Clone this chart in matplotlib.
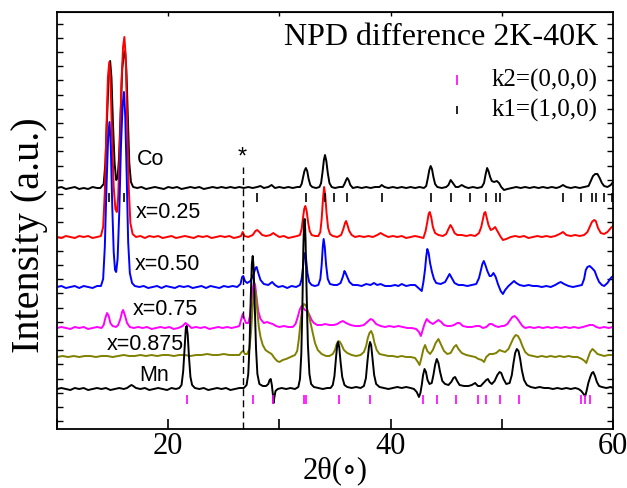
import numpy as np
import matplotlib
matplotlib.use("Agg")
from matplotlib import pyplot as plt
from matplotlib.ticker import FixedLocator, NullFormatter

# (2theta, height above baseline), per pattern
co = [(10, 0), (10.4, 1), (10.8, -1), (11.2, 0), (11.6, 1), (12.0, -1), (12.4, 0), (12.8, -1), (13.2, 1),
      (13.6, 0), (13.9, 0), (14.2, 4), (14.35, 25), (14.5, 70), (14.65, 112), (14.78, 127), (14.9, 110),
      (15.03, 65), (15.18, 25), (15.32, 8), (15.45, 10), (15.58, 30), (15.72, 75), (15.86, 118),
      (16.0, 134), (16.12, 137), (16.24, 118), (16.37, 70), (16.5, 25), (16.65, 6), (16.85, 1),
      (17.2, 0), (17.6, 1), (18.0, -1), (18.4, 0), (18.8, 1), (19.2, 0), (19.6, -1), (20.0, 1),
      (20.4, 0), (20.8, 1), (21.2, -1), (21.6, 0), (22.0, 1), (22.4, 0), (22.8, 1), (23.2, -1),
      (23.6, 0), (24.0, 1), (24.4, 0), (24.8, 1), (25.2, 0), (25.6, 1), (26.0, 0), (26.4, 1),
      (26.8, 0), (27.2, 1), (27.6, 0), (28.0, 1), (28.3, 2), (28.6, 0), (29.0, 1), (29.3, 3),
      (29.6, 0), (30.0, 1), (30.4, 0), (30.8, 1), (31.2, 0), (31.6, 1), (31.85, 1), (32.0, 4),
      (32.12, 10), (32.25, 17), (32.38, 20), (32.5, 17), (32.63, 9), (32.78, 3), (32.95, 1),
      (33.3, 0), (33.6, 1), (33.75, 5), (33.88, 16), (34.0, 28), (34.1, 33), (34.22, 27),
      (34.35, 15), (34.5, 5), (34.7, 1), (35.0, 0), (35.4, 1), (35.7, 1), (35.85, 4), (36.0, 8),
      (36.1, 10), (36.22, 8), (36.38, 3), (36.6, 0), (37.0, 1), (37.4, 0), (37.8, 1), (38.2, 0),
      (38.6, 1), (39.0, 1), (39.2, 3), (39.45, 1), (39.8, 0), (40.2, 1), (40.6, 0), (41.0, 1),
      (41.4, 0), (41.8, 1), (42.2, 0), (42.6, 1), (43.0, 0), (43.2, 2), (43.35, 10), (43.48, 18),
      (43.6, 22), (43.72, 19), (43.85, 11), (44.0, 4), (44.2, 1), (44.6, 0), (45.0, 1), (45.2, 3),
      (45.4, 8), (45.6, 5), (45.85, 1), (46.1, 1), (46.4, 3), (46.7, 1), (47.0, 0), (47.4, 1),
      (47.8, 0), (48.2, 1), (48.4, 5), (48.55, 14), (48.68, 20), (48.8, 17), (48.95, 11), (49.1, 7),
      (49.3, 6), (49.55, 7), (49.75, 5), (49.95, 1), (50.2, -2), (50.5, -1), (50.9, 0), (51.3, 1),
      (51.7, 0), (52.1, 1), (52.5, 0), (52.9, 1), (53.3, 0), (53.7, 1), (54.1, 0), (54.5, 1),
      (54.9, 0), (55.2, 1), (55.5, 3), (55.8, 1), (56.2, 0), (56.6, 1), (57.0, 0), (57.4, 1),
      (57.8, 2), (58.0, 7), (58.2, 12), (58.4, 14), (58.6, 14), (58.8, 10), (59.0, 5), (59.2, 2),
      (59.5, 1), (59.8, 3), (60, 6)]

x025 = [(10, 0), (10.4, -1), (10.8, 1), (11.2, 0), (11.6, -1), (12.0, 1), (12.4, 0), (12.8, 1),
        (13.2, -1), (13.6, 0), (13.95, 1), (14.15, 10), (14.3, 45), (14.45, 110), (14.58, 160),
        (14.7, 175), (14.82, 155), (14.95, 100), (15.1, 50), (15.25, 28), (15.38, 25), (15.5, 40),
        (15.65, 90), (15.8, 155), (15.94, 190), (16.06, 200), (16.18, 180), (16.3, 120), (16.45, 50),
        (16.6, 14), (16.8, 3), (17.1, 0), (17.5, 1), (17.9, -1), (18.3, 1), (18.7, 0), (19.1, 1),
        (19.5, -1), (19.9, 0), (20.3, 1), (20.7, -1), (21.1, 0), (21.5, 1), (21.9, 0), (22.3, -1),
        (22.7, 1), (23.1, 0), (23.5, 1), (23.9, -1), (24.3, 0), (24.7, 1), (25.1, 0), (25.5, 1),
        (25.9, -1), (26.3, 0), (26.55, 1), (26.7, 5), (26.85, 1), (27.2, 0), (27.6, 2), (27.85, 6),
        (28.0, 7), (28.2, 5), (28.45, 2), (28.8, 1), (29.2, 2), (29.45, 4), (29.7, 2), (30.0, 0),
        (30.4, 1), (30.8, -1), (31.2, 0), (31.6, 1), (31.85, 2), (32.0, 8), (32.12, 19), (32.23, 28),
        (32.33, 31), (32.45, 26), (32.58, 15), (32.72, 6), (32.9, 2), (33.2, 1), (33.5, 1),
        (33.68, 5), (33.8, 18), (33.92, 38), (34.02, 50), (34.12, 42), (34.24, 24), (34.38, 9),
        (34.55, 3), (34.8, 1), (35.2, 0), (35.55, 2), (35.75, 8), (35.9, 14), (36.0, 16), (36.12, 12),
        (36.28, 6), (36.5, 2), (36.8, 0), (37.2, 1), (37.6, 0), (38.0, 1), (38.4, 0), (38.8, 2),
        (39.1, 4), (39.4, 2), (39.8, 0), (40.2, 1), (40.6, 0), (41.0, 1), (41.4, -1), (41.8, 0),
        (42.2, 1), (42.6, 0), (42.95, -1), (43.15, 6), (43.3, 15), (43.42, 23), (43.52, 25),
        (43.65, 20), (43.8, 10), (44.0, 4), (44.3, 2), (44.7, 1), (45.0, 3), (45.2, 8), (45.38, 12),
        (45.55, 9), (45.75, 4), (46.0, 2), (46.4, 2), (46.8, 1), (47.2, 2), (47.6, 1), (47.95, 4),
        (48.15, 10), (48.3, 18), (48.42, 24), (48.52, 25), (48.65, 19), (48.8, 12), (49.0, 7),
        (49.2, 8), (49.4, 10), (49.6, 6), (49.85, 1), (50.1, -3), (50.4, -2), (50.8, 0), (51.2, 1),
        (51.6, 0), (52.0, 1), (52.4, -1), (52.8, 0), (53.2, 1), (53.6, 0), (54.0, 1), (54.4, 0),
        (54.8, 1), (55.2, 3), (55.5, 5), (55.8, 2), (56.2, 1), (56.6, 2), (57.0, 1), (57.4, 2),
        (57.7, 5), (57.9, 10), (58.1, 15), (58.3, 17), (58.45, 16), (58.65, 9), (58.9, 4), (59.2, 3),
        (59.5, 5), (59.8, 9), (60, 11)]

x050 = [(10, 0), (10.4, 1), (10.8, -1), (11.2, 0), (11.6, 1), (12.0, -1), (12.4, 1), (12.8, 0),
        (13.2, -1), (13.6, 1), (13.95, 1), (14.15, 8), (14.3, 40), (14.45, 100), (14.6, 150),
        (14.72, 165), (14.84, 140), (14.97, 80), (15.1, 35), (15.22, 17), (15.32, 15), (15.45, 28),
        (15.6, 75), (15.75, 140), (15.9, 182), (16.02, 195), (16.14, 170), (16.27, 110), (16.4, 45),
        (16.55, 14), (16.75, 4), (17.0, 1), (17.4, 0), (17.8, 1), (18.2, -1), (18.6, 0), (19.0, 1),
        (19.4, -1), (19.8, 1), (20.2, 0), (20.6, -1), (21.0, 1), (21.4, 0), (21.8, 1), (22.2, -1),
        (22.6, 0), (23.0, 1), (23.4, -1), (23.8, 1), (24.2, 0), (24.6, -1), (25.0, 1), (25.4, 0),
        (25.8, 1), (26.2, 0), (26.5, 3), (26.65, 10), (26.75, 11), (26.9, 6), (27.1, 4), (27.4, 6),
        (27.65, 12), (27.85, 19), (27.95, 20), (28.1, 14), (28.3, 7), (28.6, 3), (29.0, 2),
        (29.35, 5), (29.6, 2), (29.9, 0), (30.3, 1), (30.7, -1), (31.1, 1), (31.5, 0), (31.85, 2),
        (32.0, 8), (32.12, 20), (32.22, 30), (32.3, 34), (32.4, 28), (32.52, 14), (32.68, 5),
        (32.9, 2), (33.2, 1), (33.5, 2), (33.68, 8), (33.8, 22), (33.9, 40), (33.98, 48), (34.08, 40),
        (34.2, 22), (34.35, 8), (34.55, 3), (34.9, 2), (35.2, 2), (35.5, 4), (35.7, 10), (35.85, 16),
        (35.95, 14), (36.1, 10), (36.3, 5), (36.6, 2), (37.0, 2), (37.4, 1), (37.8, 3), (38.2, 2),
        (38.5, 4), (38.8, 2), (39.1, 3), (39.5, 1), (40.0, 1), (40.4, 2), (40.7, 1), (41.0, 3),
        (41.4, 1), (41.8, 2), (42.2, 2), (42.6, -2), (42.8, -4), (42.95, 5), (43.1, 18), (43.2, 30),
        (43.3, 38), (43.42, 34), (43.55, 24), (43.72, 15), (43.9, 8), (44.1, 4), (44.5, 3), (44.9, 5),
        (45.1, 9), (45.3, 13), (45.5, 9), (45.75, 4), (46.1, 2), (46.5, 2), (46.9, 1), (47.3, 2),
        (47.7, 3), (47.95, 9), (48.1, 16), (48.25, 23), (48.38, 26), (48.52, 22), (48.7, 16),
        (48.9, 11), (49.05, 11), (49.25, 14), (49.45, 10), (49.65, 3), (49.9, -4), (50.1, -7),
        (50.3, -3), (50.6, 1), (50.9, 4), (51.1, 6), (51.3, 4), (51.6, 2), (52.0, 1), (52.4, 2),
        (52.8, 1), (53.2, 1), (53.6, 0), (54.0, 1), (54.4, 0), (54.8, 2), (55.1, 4), (55.3, 5),
        (55.6, 3), (56.0, 1), (56.4, 0), (56.8, 1), (57.2, 2), (57.4, 8), (57.55, 17), (57.7, 20),
        (57.9, 21), (58.1, 19), (58.35, 16), (58.55, 10), (58.75, 5), (59.0, 2), (59.2, 1), (59.5, 4),
        (59.8, 9), (60, 11)]

x075 = [(10, 0), (10.4, 1), (10.8, 0), (11.2, -1), (11.6, 1), (12.0, 0), (12.4, 1), (12.8, -1),
        (13.2, 0), (13.6, 1), (14.0, 0), (14.2, 3), (14.35, 10), (14.5, 15), (14.65, 12), (14.8, 5),
        (15.0, 2), (15.3, 1), (15.5, 3), (15.7, 9), (15.85, 16), (15.95, 18), (16.1, 13), (16.3, 5),
        (16.55, 1), (16.9, 0), (17.3, 1), (17.7, 0), (18.1, 1), (18.5, -1), (18.9, 0), (19.3, 1),
        (19.7, 0), (20.1, 1), (20.5, -1), (20.9, 0), (21.3, 2), (21.55, 5), (21.8, 3), (22.1, 0),
        (22.5, 1), (22.9, 0), (23.3, 1), (23.7, -1), (24.1, 0), (24.5, 1), (24.9, 0), (25.3, 1),
        (25.7, 0), (26.1, 1), (26.4, 2), (26.58, 9), (26.7, 14), (26.85, 9), (27.0, 5), (27.2, 5),
        (27.35, 12), (27.5, 28), (27.62, 40), (27.72, 46), (27.82, 43), (27.95, 30), (28.1, 17),
        (28.3, 9), (28.6, 5), (28.9, 6), (29.1, 5), (29.4, 4), (29.7, 2), (30.0, 1), (30.4, 2),
        (30.8, 1), (31.2, 1), (31.45, 4), (31.65, 11), (31.85, 19), (32.0, 22), (32.15, 20),
        (32.3, 18), (32.5, 17), (32.7, 13), (32.9, 8), (33.1, 5), (33.4, 3), (33.8, 3), (34.1, 4),
        (34.5, 3), (34.9, 3), (35.2, 4), (35.5, 6), (35.7, 7), (36.0, 5), (36.4, 3), (36.8, 2),
        (37.2, 2), (37.6, 3), (37.9, 6), (38.2, 9), (38.4, 8), (38.7, 4), (39.1, 2), (39.5, 1),
        (39.9, 2), (40.3, 1), (40.7, 2), (41.1, 1), (41.5, 0), (41.9, 0), (42.3, -1), (42.55, -4),
        (42.72, -8), (42.88, -2), (43.05, 4), (43.25, 9), (43.5, 6), (43.8, 4), (44.05, 6), (44.3, 8),
        (44.55, 6), (44.8, 3), (45.1, 2), (45.4, 2), (45.7, 3), (46.0, 5), (46.2, 5), (46.5, 2),
        (46.9, 1), (47.3, 1), (47.7, 2), (48.0, 2), (48.3, 0), (48.6, 1), (48.9, 4), (49.1, 4),
        (49.4, 2), (49.7, 1), (50.0, 2), (50.2, 2), (50.5, 4), (50.75, 8), (50.95, 11), (51.15, 12),
        (51.35, 10), (51.6, 6), (51.85, 2), (52.1, 0), (52.5, 1), (52.9, 0), (53.3, 1), (53.7, 0),
        (54.1, 1), (54.5, 0), (54.9, 1), (55.3, 0), (55.7, 1), (56.1, 0), (56.5, 1), (56.9, 0),
        (57.3, 1), (57.6, 2), (57.9, 3), (58.2, 3), (58.5, 1), (58.8, 0), (59.2, 1), (59.6, 0),
        (60, 1)]

x0875 = [(10, 0), (10.5, 1), (11.0, 0), (11.5, 1), (12.0, 0), (12.5, 1), (13.0, 1), (13.5, 0),
         (14.0, 1), (14.5, 1), (15.0, 0), (15.5, 1), (16.0, 2), (16.5, 1), (17.0, 1), (17.5, 2),
         (18.0, 1), (18.5, 2), (19.0, 1), (19.5, 2), (20.0, 2), (20.5, 1), (21.0, 2), (21.5, 2),
         (22.0, 1), (22.5, 2), (23.0, 2), (23.5, 3), (24.0, 2), (24.5, 2), (25.0, 3), (25.5, 2),
         (26.0, 2), (26.4, 2), (26.6, 5), (26.75, 6), (26.9, 3), (27.1, 3), (27.3, 8), (27.45, 25),
         (27.58, 48), (27.7, 64), (27.8, 68), (27.9, 62), (28.02, 45), (28.15, 30), (28.3, 20),
         (28.5, 12), (28.75, 7), (29.0, 5), (29.3, 3), (29.55, -1), (29.8, -4), (30.0, -5),
         (30.3, -3), (30.6, -2), (31.0, 0), (31.4, 2), (31.6, 6), (31.75, 18), (31.9, 35),
         (32.05, 48), (32.2, 53), (32.35, 52), (32.5, 48), (32.65, 42), (32.8, 34), (33.0, 24),
         (33.2, 14), (33.45, 7), (33.8, 3), (34.2, 1), (34.5, 1), (34.8, 3), (35.0, 7), (35.15, 13),
         (35.3, 16), (35.45, 15), (35.6, 12), (35.8, 7), (36.1, 4), (36.5, 2), (36.9, 1), (37.3, 2),
         (37.6, 5), (37.8, 11), (37.95, 19), (38.1, 24), (38.25, 26), (38.4, 22), (38.55, 14),
         (38.75, 7), (39.0, 3), (39.4, 2), (39.8, 1), (40.2, 1), (40.6, 0), (41.0, 1), (41.4, 0),
         (41.8, 0), (42.2, -1), (42.45, -5), (42.6, -8), (42.75, -2), (42.95, 8), (43.1, 12),
         (43.3, 6), (43.55, 3), (43.8, 7), (44.05, 14), (44.3, 18), (44.55, 12), (44.8, 6),
         (45.1, 3), (45.4, 4), (45.7, 10), (45.9, 12), (46.1, 8), (46.4, 4), (46.8, 2), (47.2, 1),
         (47.6, 0), (47.9, -2), (48.2, -3), (48.4, -5), (48.6, 0), (48.9, 3), (49.2, 3), (49.5, 4),
         (49.8, 7), (50.0, 6), (50.3, 5), (50.6, 8), (50.85, 14), (51.05, 19), (51.25, 22),
         (51.45, 21), (51.65, 17), (51.85, 11), (52.1, 5), (52.4, 2), (52.8, 1), (53.2, 0),
         (53.6, 1), (54.0, 0), (54.4, 1), (54.8, 0), (55.2, 1), (55.6, 0), (56.0, 1), (56.4, 0),
         (56.8, 0), (57.2, -2), (57.45, -4), (57.6, -6), (57.75, -1), (57.95, 5), (58.15, 8),
         (58.35, 6), (58.6, 3), (58.9, 2), (59.2, 1), (59.6, 2), (60, 2)]

mn = [(10, 0), (10.4, 1), (10.8, 0), (11.2, -1), (11.6, 1), (12.0, 0), (12.4, 1), (12.8, -1),
      (13.2, 0), (13.6, 1), (14.0, 0), (14.4, 1), (14.8, -1), (15.2, 0), (15.6, 1), (16.0, 0),
      (16.3, 1), (16.55, 3), (16.7, 4), (16.85, 3), (17.1, 1), (17.5, 0), (17.9, 1), (18.3, -1),
      (18.7, 0), (19.1, 1), (19.5, 0), (19.9, -1), (20.3, 1), (20.7, 0), (21.0, 1), (21.2, 4),
      (21.35, 18), (21.48, 42), (21.58, 60), (21.65, 63), (21.75, 55), (21.87, 32), (22.0, 12),
      (22.15, 4), (22.4, 1), (22.8, 0), (23.2, 1), (23.6, -1), (24.0, 0), (24.4, 1), (24.8, 0),
      (25.2, 1), (25.6, -1), (26.0, 0), (26.4, 1), (26.8, 1), (27.05, 4), (27.2, 15), (27.32, 45),
      (27.42, 90), (27.52, 125), (27.6, 133), (27.68, 122), (27.78, 85), (27.9, 40), (28.02, 15),
      (28.2, 5), (28.5, 3), (28.8, 3), (29.0, 5), (29.12, 9), (29.22, 10), (29.32, 4), (29.42, -6),
      (29.48, -14), (29.55, -8), (29.65, -2), (29.85, 0), (30.2, 1), (30.6, 0), (31.0, 1),
      (31.4, 0), (31.7, 2), (31.85, 10), (31.97, 35), (32.07, 85), (32.15, 140), (32.22, 168),
      (32.28, 170), (32.35, 150), (32.45, 95), (32.56, 45), (32.7, 15), (32.85, 5), (33.1, 2),
      (33.5, 1), (33.9, 0), (34.3, 1), (34.6, 1), (34.8, 4), (34.95, 13), (35.08, 30), (35.2, 44),
      (35.28, 47), (35.38, 42), (35.5, 27), (35.65, 12), (35.85, 4), (36.1, 2), (36.5, 1),
      (36.9, 2), (37.3, 1), (37.6, 3), (37.78, 11), (37.92, 28), (38.05, 42), (38.15, 47),
      (38.25, 44), (38.38, 30), (38.52, 14), (38.7, 5), (39.0, 2), (39.4, 1), (39.8, 0), (40.2, 1),
      (40.6, 2), (41.0, 1), (41.4, 2), (41.8, 1), (42.1, 0), (42.35, -3), (42.55, -8), (42.68, -4),
      (42.8, 4), (42.92, 14), (43.05, 20), (43.18, 17), (43.32, 9), (43.5, 5), (43.7, 6),
      (43.85, 14), (44.0, 24), (44.15, 30), (44.3, 26), (44.45, 17), (44.65, 8), (44.9, 5),
      (45.2, 4), (45.45, 7), (45.65, 11), (45.8, 12), (45.98, 8), (46.2, 4), (46.6, 3), (47.0, 3),
      (47.3, 4), (47.6, 6), (47.85, 3), (48.1, 3), (48.35, 6), (48.6, 9), (48.75, 10), (48.9, 7),
      (49.1, 5), (49.35, 8), (49.6, 14), (49.8, 17), (49.95, 16), (50.15, 10), (50.4, 5),
      (50.7, 6), (50.9, 14), (51.05, 26), (51.2, 36), (51.35, 40), (51.5, 38), (51.65, 30),
      (51.8, 19), (52.0, 9), (52.25, 4), (52.6, 2), (53.0, 1), (53.4, 2), (53.8, 1), (54.2, 1),
      (54.6, 0), (55.0, 1), (55.4, 0), (55.8, 1), (56.2, 0), (56.6, 1), (56.9, 0), (57.15, -2),
      (57.35, -5), (57.5, -7), (57.62, -2), (57.78, 6), (57.95, 12), (58.1, 16), (58.22, 17),
      (58.38, 13), (58.55, 7), (58.75, 3), (59.0, 2), (59.4, 1), (59.8, 2), (60, 1)]

# reflection positions
k1_pos = [14.7, 16.06, 28.0, 32.35, 34.07, 34.92, 36.06, 39.2, 43.6, 45.4, 47.1, 48.6, 49.45, 49.8,
          55.5, 57.1, 58.1, 58.5, 59.2, 59.95]
k2_pos = [21.66, 27.67, 29.44, 32.22, 32.4, 35.33, 38.19, 42.93, 44.16, 45.86, 47.88, 48.57, 49.87,
          51.54, 57.14, 57.47, 57.94]

labels = ["Co", "x=0.25", "x=0.50", "x=0.75", "x=0.875", "Mn"]
patterns = [co, x025, x050, x075, x0875, mn]
colors = ["black", "#ff0000", "#0000ff", "#ff00ff", "#808000", "black"]
offsets = [241, 192, 142, 101, 72, 40]
label_xy = [(17.2, 270), (17.1, 217), (17.0, 165), (16.8, 120), (14.5, 85), (17.4, 54)]

plt.rcParams["font.family"] = ["Liberation Serif", "DejaVu Serif"]

fig = plt.figure(figsize=(6.27, 4.88), dpi=100)
ax = fig.add_axes([0.0909, 0.1209, 0.8868, 0.8545])

for pts, c, off in zip(patterns, colors, offsets):
    pts = np.array(pts, dtype=float)
    ax.plot(pts[:, 0], pts[:, 1] + off, color=c, lw=1.4)

for (tx, ty), lab in zip(label_xy, labels):
    ax.text(tx, ty, lab, fontsize=15.5, family="Liberation Sans", va="center", ha="left")

ax.vlines(k1_pos, 227, 236, color="black", lw=1.2)
ax.vlines(k2_pos, 25, 34, color="#ff00ff", lw=1.2)

# impurity line
ax.plot([26.7, 26.7], [0, 262], color="black", lw=1.0, ls=(0, (5, 3)))
ax.text(26.7, 271, "*", fontsize=17, family="Liberation Sans", ha="center", va="center")

ax.text(30.4, 392, "NPD difference 2K-40K", fontsize=23, va="center", ha="left")
ax.vlines([46.0], 344, 354, color="#ff00ff", lw=1.2)
ax.text(49.1, 349, "k2=(0,0,0)", fontsize=18, va="center", ha="left")
ax.vlines([46.0], 315, 323, color="black", lw=1.2)
ax.text(49.1, 319, "k1=(1,0,0)", fontsize=18, va="center", ha="left")

ax.set_xlim(10, 60)
ax.set_ylim(0, 417)
ax.set_xticks([10, 20, 30, 40, 50, 60])
ax.set_xticklabels(["", "20", "", "40", "", "60"])
ax.yaxis.set_major_locator(FixedLocator(np.arange(7.8, 417, 14.2)))
ax.yaxis.set_major_formatter(NullFormatter())
ax.tick_params(axis="x", direction="in", length=7, width=1.2, labelsize=22, pad=2)
ax.tick_params(axis="y", direction="in", length=4, width=1.0, right=True)
for s in ax.spines.values():
    s.set_linewidth(1.3)

top = ax.secondary_xaxis("top")
top.set_xticks([20, 30, 40, 50])
top.tick_params(direction="in", length=3, width=1.0, labeltop=False)

ax.set_xlabel("2θ(∘)", fontsize=22, labelpad=-3)
ax.set_ylabel("Intensity (a.u.)", fontsize=29)
ax.yaxis.set_label_coords(-0.017, 0.465)

fig.savefig("out.png", dpi=100)
